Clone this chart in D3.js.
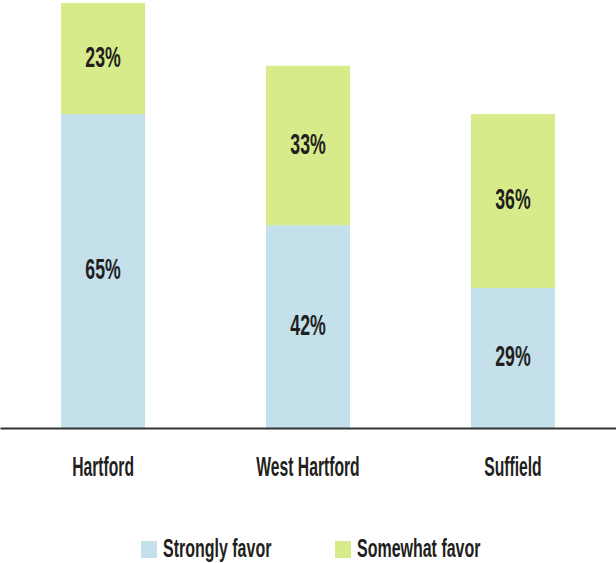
<!DOCTYPE html>
<html>
<head>
<meta charset="utf-8">
<script src="https://cdn.jsdelivr.net/npm/d3@7"></script>
<style>
  body { margin: 0; background: #fff; }
  text { font-family: "Liberation Sans Narrow", "Liberation Sans", Arial, sans-serif; font-weight: bold; fill: #231f20; }
</style>
</head>
<body>
<div id="chart"></div>
<script>
var width = 616;
var height = 563;

var towns = ["Hartford", "West Hartford", "Suffield"];
var strongly = [65, 42, 29];
var somewhat = [23, 33, 36];
var seriesNames = ["Strongly favor", "Somewhat favor"];
var colors = ["#c4e0eb", "#d8eb8b"];

// reference font is a very condensed face, so squeeze the text horizontally
var squeezeValue = 0.59;
var squeezeCat = 0.56;
var squeezeLegend = 0.64;

var svg = d3.select("#chart").append("svg")
  .attr("width", width)
  .attr("height", height);

var x = d3.scaleBand()
  .domain(towns)
  .range([0, width])
  .paddingInner(0.59)
  .paddingOuter(0.298);

var y = d3.scaleLinear()
  .domain([0, 88])
  .range([428, 3]);

var rows = towns.map(function (t, i) {
  return { town: t, strongly: strongly[i], somewhat: somewhat[i] };
});

var stack = d3.stack().keys(["strongly", "somewhat"]);
var layers = stack(rows);

var layer = svg.selectAll(".layer")
  .data(layers)
  .enter().append("g")
  .attr("class", "layer")
  .attr("fill", function (d, i) { return colors[i]; });

layer.selectAll("rect")
  .data(function (d) { return d; })
  .enter().append("rect")
  .attr("x", function (d) { return x(d.data.town); })
  .attr("width", x.bandwidth())
  .attr("y", function (d) { return y(d[1]); })
  .attr("height", function (d) { return y(d[0]) - y(d[1]); });

// value labels
layer.selectAll("text")
  .data(function (d) { return d; })
  .enter().append("text")
  .attr("text-anchor", "middle")
  .attr("dy", "0.27em")
  .style("font-size", "30px")
  .attr("transform", function (d) {
    var cx = x(d.data.town) + x.bandwidth() / 2;
    var cy = (y(d[0]) + y(d[1])) / 2;
    return "translate(" + cx + "," + cy + ") scale(" + squeezeValue + ",1)";
  })
  .text(function (d) { return (d[1] - d[0]) + "%"; });

// axis
var axis = svg.append("g")
  .attr("transform", "translate(0," + y(0) + ")")
  .call(d3.axisBottom(x).tickSize(0).tickSizeOuter(0).tickFormat(""));
axis.select(".domain").attr("stroke", "#333").attr("stroke-width", 2);

svg.selectAll(".cat")
  .data(towns)
  .enter().append("text")
  .attr("class", "cat")
  .attr("text-anchor", "middle")
  .style("font-size", "28px")
  .attr("transform", function (d) {
    return "translate(" + (x(d) + x.bandwidth() / 2) + ",476) scale(" + squeezeCat + ",1)";
  })
  .text(function (d) { return d; });

// legend
var legendX = [141, 335];
var legend = svg.selectAll(".legend")
  .data(seriesNames)
  .enter().append("g")
  .attr("class", "legend")
  .attr("transform", function (d, i) { return "translate(" + legendX[i] + ",541)"; });

legend.append("rect")
  .attr("width", 16)
  .attr("height", 17)
  .attr("fill", function (d, i) { return colors[i]; });

legend.append("text")
  .style("font-size", "25px")
  .attr("transform", "translate(22,16) scale(" + squeezeLegend + ",1)")
  .text(function (d) { return d; });
</script>
</body>
</html>
